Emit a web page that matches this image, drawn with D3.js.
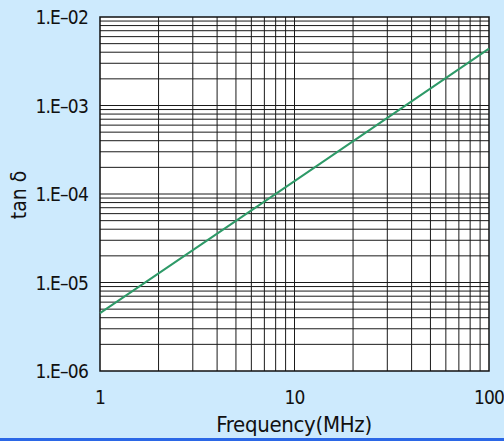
<!DOCTYPE html>
<html>
<head>
<meta charset="utf-8">
<script src="https://cdn.jsdelivr.net/npm/d3@7"></script>
<style>
  body { margin: 0; background: #cdeafd; }
  text { font-family: "Liberation Sans Narrow", "DejaVu Sans Condensed", sans-serif; fill: #111; }
</style>
</head>
<body>
<div id="chart"></div>
<script>
// data
var freqs = [1, 10, 100];
var tanDelta = [4.5e-6, 1.4e-4, 4.4e-3];
var xTicks = [1, 10, 100];
var xTickLabels = ["1", "10", "100"];
var yTicks = [1e-6, 1e-5, 1e-4, 1e-3, 1e-2];
var yTickLabels = ["1.E\u201306", "1.E\u201305", "1.E\u201304", "1.E\u201303", "1.E\u201302"];

function draw(){
  var w = 504, h = 441,
    left = 100, right = 489, top = 17, bottom = 371;

  var svg = d3.select("#chart").append("svg")
    .attr("width", w)
    .attr("height", h);

  svg.append("rect")
    .attr("width", w).attr("height", h)
    .attr("fill", "#cdeafd");

  // blue strip at the bottom
  svg.append("rect")
    .attr("x", 0).attr("y", 438)
    .attr("width", w).attr("height", 3)
    .attr("fill", "#2b67e6");

  var x = d3.scaleLog().domain([1, 100]).range([left, right]);
  var y = d3.scaleLog().domain([1e-6, 1e-2]).range([bottom, top]);

  svg.append("rect")
    .attr("x", left).attr("y", top)
    .attr("width", right - left).attr("height", bottom - top)
    .attr("fill", "#fff");

  // minor + major grid
  var xGrid = x.ticks().filter(function(d){ return d > 1 && d < 100; });
  var yGrid = y.ticks().filter(function(d){ return d > 1e-6 * 1.0001 && d < 1e-2 * 0.9999; });

  svg.append("g").selectAll("line")
    .data(xGrid)
    .enter().append("line")
    .attr("x1", function(d){ return x(d); })
    .attr("x2", function(d){ return x(d); })
    .attr("y1", top).attr("y2", bottom)
    .attr("stroke", "#1a1a1a")
    .attr("stroke-width", 1);

  svg.append("g").selectAll("line")
    .data(yGrid)
    .enter().append("line")
    .attr("y1", function(d){ return y(d); })
    .attr("y2", function(d){ return y(d); })
    .attr("x1", left).attr("x2", right)
    .attr("stroke", "#1a1a1a")
    .attr("stroke-width", 1);

  svg.append("rect")
    .attr("x", left).attr("y", top)
    .attr("width", right - left).attr("height", bottom - top)
    .attr("fill", "none")
    .attr("stroke", "#111")
    .attr("stroke-width", 1.5);

  // the curve
  var line = d3.line()
    .x(function(d){ return x(d[0]); })
    .y(function(d){ return y(d[1]); });

  svg.append("path")
    .datum(d3.zip(freqs, tanDelta))
    .attr("d", line)
    .attr("fill", "none")
    .attr("stroke", "#2e9a68")
    .attr("stroke-width", 2);

  // tick labels
  svg.append("g").selectAll("text")
    .data(yTicks)
    .enter().append("text")
    .attr("x", 88)
    .attr("y", function(d){ return y(d) + 7; })
    .attr("text-anchor", "end")
    .style("font-size", "19px")
    .style("letter-spacing", "-0.8px")
    .text(function(d, i){ return yTickLabels[i]; });

  svg.append("g").selectAll("text")
    .data(xTicks)
    .enter().append("text")
    .attr("x", function(d){ return x(d); })
    .attr("y", 404)
    .attr("text-anchor", "middle")
    .style("font-size", "19px")
    .style("letter-spacing", "-0.8px")
    .text(function(d, i){ return xTickLabels[i]; });

  // axis titles
  svg.append("text")
    .attr("transform", "translate(" + 26 + "," + 195 + ") rotate(-90)")
    .attr("text-anchor", "middle")
    .style("font-size", "21px")
    .text("tan \u03b4");

  svg.append("text")
    .attr("x", 294)
    .attr("y", 432)
    .attr("text-anchor", "middle")
    .style("font-size", "22px")
    .style("letter-spacing", "-0.3px")
    .text("Frequency(MHz)");
}
draw();
</script>
</body>
</html>
